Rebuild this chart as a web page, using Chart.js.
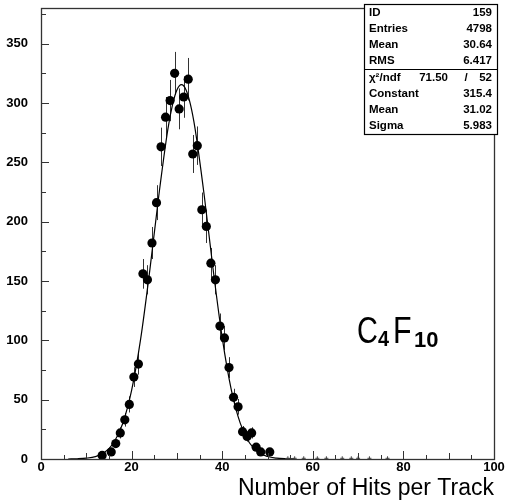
<!DOCTYPE html>
<html>
<head>
<meta charset="utf-8">
<script src="https://cdn.jsdelivr.net/npm/chart.js@4.4.0/dist/chart.umd.min.js"></script>
<style>
  html, body { margin: 0; padding: 0; background: #fff; }
</style>
</head>
<body>
<canvas id="hitsChart" width="508" height="502"></canvas>
<script>
// histogram bins (bin centres) and contents
var binCenters = [13.5, 15.5, 16.5, 17.5, 18.5, 19.5, 20.5, 21.5, 22.5, 23.5, 24.5, 25.5,
                  26.5, 27.5, 28.5, 29.5, 30.5, 31.5, 32.5, 33.5, 34.5, 35.5, 36.5, 37.5,
                  38.5, 39.5, 40.5, 41.5, 42.5, 43.5, 44.5, 45.5, 46.5, 47.5, 48.5, 50.5];
var counts = [3, 6, 13, 22, 33, 46, 69, 80, 156, 151, 182, 216,
              263, 288, 302, 325, 295, 305, 320, 257, 264, 210, 196, 165,
              151, 112, 102, 77, 52, 44, 23, 19, 22, 10, 6, 6];
var errors = [1.7, 2.4, 3.6, 4.7, 5.7, 6.8, 8.3, 8.9, 12.5, 12.3, 13.5, 14.7,
              16.2, 17, 17.4, 18, 17.2, 17.5, 17.9, 16, 16.2, 14.5, 14, 12.8,
              12.3, 10.6, 10.1, 8.8, 7.2, 6.6, 4.8, 4.4, 4.7, 3.2, 2.4, 2.4];

// sparse tail bins along the baseline
var tailX = [54.5, 56, 58, 61, 63, 66.5, 68.5, 70, 72.5, 76.5];
var tailY = [0.6, 0.6, 0.6, 0.6, 0.6, 0.6, 0.6, 0.6, 0.6, 0.6];

// gaussian fit curve, sampled off the drawn line
var fitX = [6, 8, 10, 12, 14, 16, 18, 20, 22, 24, 26, 28, 29, 30, 31, 32, 33, 34, 36, 38, 40, 42, 44, 46, 48, 50, 52, 54, 56];
var fitY = [0.02, 0.2, 0.7, 2.0, 5.5, 13.5, 29.5, 57.8, 101.2, 158.5, 221.8, 277.7, 297.9, 310.9, 315.4, 311.2, 298.6, 278.6,
            223.1, 159.7, 102.3, 58.5, 30.0, 13.7, 5.6, 2.1, 0.7, 0.2, 0.05];

var xTicks = [0, 20, 40, 60, 80, 100];
var yTicks = [0, 50, 100, 150, 200, 250, 300, 350];

var statsRows = [["ID", "159"], ["Entries", "4798"], ["Mean", "30.64"], ["RMS", "6.417"]];
var chiRow = ["\u03c7\u00b2/ndf", "71.50", "/", "52"];
var fitRows = [["Constant", "315.4"], ["Mean", "31.02"], ["Sigma", "5.983"]];

var FONT = "'Liberation Sans', Arial, sans-serif";

function narrowText(c, txt, x, y, sx) {
  c.save();
  c.translate(x, y);
  c.scale(sx, 1);
  c.fillText(txt, 0, 0);
  var w = c.measureText(txt).width * sx;
  c.restore();
  return w;
}

var histPlugin = {
  id: 'histPlugin',
  beforeDatasetsDraw: function (chart) {
    // error bars
    var c = chart.ctx, xs = chart.scales.x, ys = chart.scales.y;
    c.save();
    c.strokeStyle = '#333';
    c.lineWidth = 1;
    for (var i = 0; i < binCenters.length; ++i) {
      var px = Math.round(xs.getPixelForValue(binCenters[i])) + 0.5;
      c.beginPath();
      c.moveTo(px, ys.getPixelForValue(counts[i] - errors[i]));
      c.lineTo(px, ys.getPixelForValue(counts[i] + errors[i]));
      c.stroke();
    }
    c.restore();
  },
  afterDraw: function (chart) {
    var c = chart.ctx, a = chart.chartArea, xs = chart.scales.x, ys = chart.scales.y;
    c.save();
    // frame
    c.strokeStyle = '#333';
    c.lineWidth = 1.3;
    c.strokeRect(a.left + 0.5, a.top + 0.5, a.right - a.left, a.bottom - a.top);

    // ticks pointing inwards
    c.lineWidth = 1;
    for (var v = 0; v <= 380; v += 25) {
      var py = Math.round(ys.getPixelForValue(v)) + 0.5;
      var len = (v % 50 === 0) ? 8 : 5;
      c.beginPath(); c.moveTo(a.left, py); c.lineTo(a.left + len, py); c.stroke();
    }
    for (var u = 0; u <= 100; u += 5) {
      var px = Math.round(xs.getPixelForValue(u)) + 0.5;
      var l2 = (u % 20 === 0) ? 8 : (u % 10 === 0 ? 6 : 4);
      c.beginPath(); c.moveTo(px, a.bottom); c.lineTo(px, a.bottom - l2); c.stroke();
    }

    // statistics box
    var bx = 364, by = 4, bw = 133, bh = 130;
    c.fillStyle = '#fff';
    c.fillRect(bx, by, bw, bh);
    c.strokeStyle = '#000';
    c.lineWidth = 1.2;
    c.strokeRect(bx + 0.5, by + 0.5, bw, bh);
    c.beginPath(); c.moveTo(bx, 69.5); c.lineTo(bx + bw, 69.5); c.stroke();

    c.fillStyle = '#000';
    c.font = 'bold 11.5px ' + FONT;
    c.textBaseline = 'middle';
    var rowY = 13;
    for (var i = 0; i < statsRows.length; ++i) {
      c.textAlign = 'left'; c.fillText(statsRows[i][0], bx + 5, rowY);
      c.textAlign = 'right'; c.fillText(statsRows[i][1], bx + bw - 5, rowY);
      rowY += 16;
    }
    rowY = 78;
    c.textAlign = 'left'; c.fillText(chiRow[0], bx + 5, rowY);
    c.textAlign = 'right'; c.fillText(chiRow[1], bx + 84, rowY);
    c.textAlign = 'center'; c.fillText(chiRow[2], bx + 102, rowY);
    c.textAlign = 'right'; c.fillText(chiRow[3], bx + bw - 5, rowY);
    rowY += 16;
    for (var j = 0; j < fitRows.length; ++j) {
      c.textAlign = 'left'; c.fillText(fitRows[j][0], bx + 5, rowY);
      c.textAlign = 'right'; c.fillText(fitRows[j][1], bx + bw - 5, rowY);
      rowY += 16;
    }

    // C4F10 label
    c.textAlign = 'left';
    c.textBaseline = 'alphabetic';
    var base = 343;
    c.font = '37px ' + FONT;
    narrowText(c, 'C', 357, base, 0.78);
    narrowText(c, 'F', 393, base, 0.82);
    c.font = 'bold 22px ' + FONT;
    narrowText(c, '4', 378, base + 3, 0.9);
    narrowText(c, '10', 414, base + 4, 1.0);
    c.restore();
  }
};

var ctx = document.getElementById('hitsChart');
var hitsChart = new Chart(ctx, {
  type: 'scatter',
  data: {
    datasets: [{
      type: 'line',
      data: fitX.map(function (x, i) { return {x: x, y: fitY[i]}; }),
      borderColor: '#000',
      borderWidth: 1.2,
      pointRadius: 0,
      cubicInterpolationMode: 'monotone',
      fill: false,
      order: 2
    }, {
      data: binCenters.map(function (x, i) { return {x: x, y: counts[i]}; }),
      backgroundColor: '#000',
      borderColor: '#000',
      pointRadius: 4.6,
      borderWidth: 0,
      order: 1
    }, {
      data: tailX.map(function (x, i) { return {x: x, y: tailY[i]}; }),
      pointStyle: 'cross',
      pointRadius: 2,
      borderColor: '#444',
      borderWidth: 1,
      order: 0
    }]
  },
  options: {
    responsive: false,
    animation: false,
    devicePixelRatio: 1,
    layout: {padding: {top: 8, right: 14, left: 0, bottom: 0}},
    plugins: {legend: {display: false}, tooltip: {enabled: false}},
    scales: {
      x: {
        type: 'linear', min: 0, max: 100,
        grid: {display: false}, border: {display: false},
        afterBuildTicks: function (s) { s.ticks = xTicks.map(function (v) { return {value: v}; }); },
        ticks: {font: {family: FONT, size: 13, weight: 'bold'}, color: '#000', padding: -7, maxRotation: 0},
        title: {display: true, text: 'Number of Hits per Track', align: 'end',
                font: {family: FONT, size: 23}, color: '#000', padding: {top: 0, bottom: 0}},
        afterFit: function (s) { s.height = 43; s.paddingLeft = 0; s.paddingRight = 0; }
      },
      y: {
        min: 0, max: 380,
        grid: {display: false}, border: {display: false},
        afterBuildTicks: function (s) { s.ticks = yTicks.map(function (v) { return {value: v}; }); },
        ticks: {font: {family: FONT, size: 13, weight: 'bold'}, color: '#000', padding: 5},
        afterFit: function (s) { s.width = 41; s.paddingTop = 0; s.paddingBottom = 0; }
      }
    }
  },
  plugins: [histPlugin]
});
</script>
</body>
</html>
